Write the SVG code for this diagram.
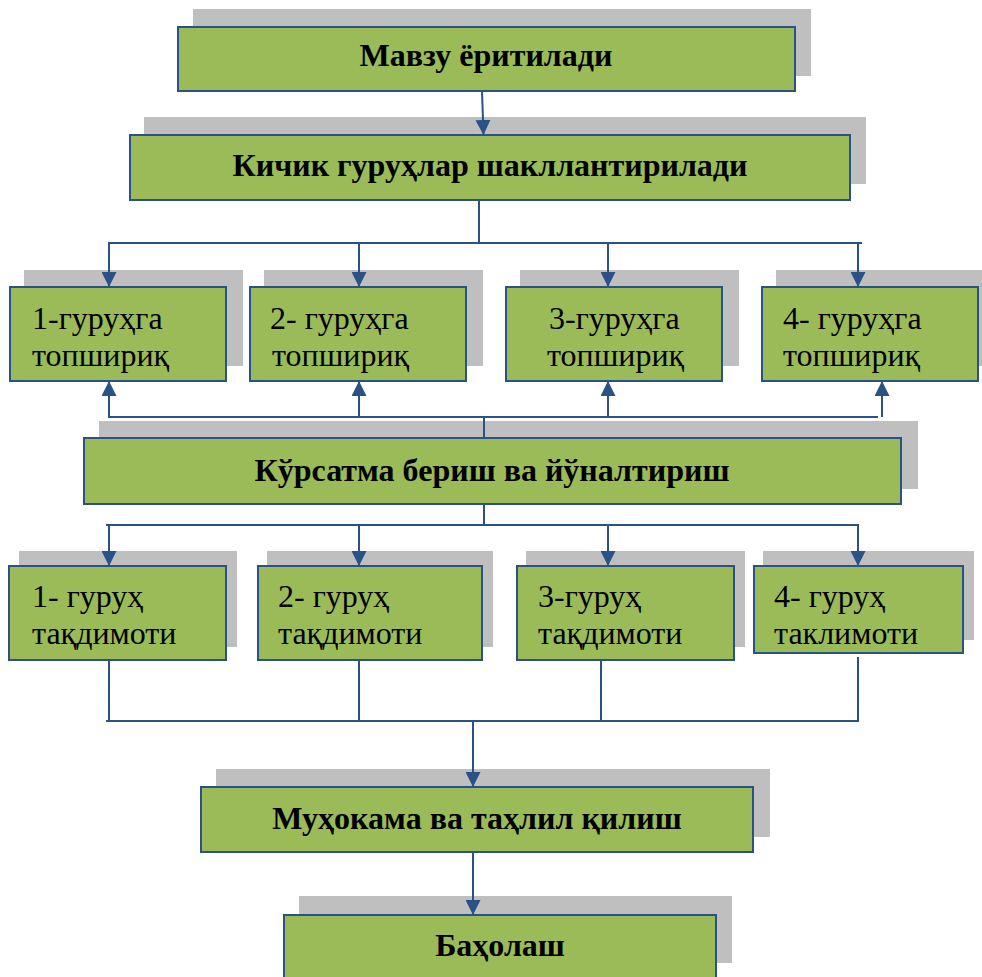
<svg xmlns="http://www.w3.org/2000/svg" width="982" height="977" viewBox="0 0 982 977">
<defs>
<style>
.sh{fill:#BFBFBF}
.bx{fill:#9BBB59;stroke:#2A5286;stroke-width:2}
.tb{font-family:"Liberation Serif","Times New Roman",serif;font-weight:bold;font-size:32px;fill:#000;text-anchor:middle}
.tr{font-family:"Liberation Serif","Times New Roman",serif;font-size:32px;fill:#000}
.cn{stroke:#2A5286;stroke-width:2;fill:none}
.ar{stroke:#2A5286;stroke-width:2;fill:none;marker-end:url(#ah)}
</style>
<marker id="ah" markerUnits="userSpaceOnUse" markerWidth="15" markerHeight="15" refX="15" refY="7.5" orient="auto">
<path d="M0,0 L15,7.5 L0,15 z" fill="#2A5286"/>
</marker>
</defs>
<rect width="982" height="977" fill="#fff"/>

<g id="n1">
<rect class="sh" x="193" y="9" width="618" height="67"/>
<rect class="bx" x="178" y="27" width="617" height="64"/>
<text class="tb" x="486" y="66">Мавзу ёритилади</text>
</g>
<g id="n2">
<rect class="sh" x="144" y="117" width="722" height="67"/>
<rect class="bx" x="130" y="135" width="720" height="65"/>
<text class="tb" x="490" y="176">Кичик гуруҳлар шакллантирилади</text>
</g>
<g id="t1">
<rect class="sh" x="24" y="270" width="219" height="96"/>
<rect class="bx" x="10" y="287" width="216" height="94"/>
<text class="tr" x="32" y="329">1-гуруҳга</text>
<text class="tr" x="32" y="366">топшириқ</text>
</g>
<g id="t2">
<rect class="sh" x="264" y="270" width="219" height="96"/>
<rect class="bx" x="250" y="287" width="216" height="94"/>
<text class="tr" x="270" y="329">2- гуруҳга</text>
<text class="tr" x="272" y="366">топшириқ</text>
</g>
<g id="t3">
<rect class="sh" x="520" y="270" width="219" height="96"/>
<rect class="bx" x="506" y="287" width="216" height="94"/>
<text class="tr" x="549" y="329">3-гуруҳга</text>
<text class="tr" x="547" y="366">топшириқ</text>
</g>
<g id="t4">
<rect class="sh" x="776" y="270" width="206" height="96"/>
<rect class="bx" x="762" y="287" width="216" height="94"/>
<text class="tr" x="783" y="329">4- гуруҳга</text>
<text class="tr" x="783" y="366">топшириқ</text>
</g>
<g id="n3">
<rect class="sh" x="99" y="421" width="819" height="68"/>
<rect class="bx" x="84" y="438" width="817" height="66"/>
<text class="tb" x="492" y="481">Кўрсатма бериш ва йўналтириш</text>
</g>
<g id="p1">
<rect class="sh" x="19" y="551" width="218" height="96"/>
<rect class="bx" x="9" y="566" width="217" height="94"/>
<text class="tr" x="32" y="607">1- гуруҳ</text>
<text class="tr" x="32" y="644">тақдимоти</text>
</g>
<g id="p2">
<rect class="sh" x="267" y="551" width="226" height="96"/>
<rect class="bx" x="258" y="566" width="224" height="94"/>
<text class="tr" x="278" y="607">2- гуруҳ</text>
<text class="tr" x="278" y="644">тақдимоти</text>
</g>
<g id="p3">
<rect class="sh" x="526" y="551" width="219" height="96"/>
<rect class="bx" x="517" y="566" width="217" height="94"/>
<text class="tr" x="538" y="607">3-гуруҳ</text>
<text class="tr" x="538" y="644">тақдимоти</text>
</g>
<g id="p4">
<rect class="sh" x="763" y="551" width="211" height="89"/>
<rect class="bx" x="754" y="566" width="209" height="87"/>
<text class="tr" x="774" y="607">4- гуруҳ</text>
<text class="tr" x="774" y="644">таклимоти</text>
</g>
<g id="n4">
<rect class="sh" x="216" y="769" width="554" height="68"/>
<rect class="bx" x="201" y="787" width="552" height="65"/>
<text class="tb" x="477" y="829">Муҳокама ва таҳлил қилиш</text>
</g>
<g id="n5">
<rect class="sh" x="299" y="896" width="433" height="67"/>
<rect class="bx" x="284" y="915" width="432" height="80"/>
<text class="tb" x="500" y="956">Баҳолаш</text>
</g>

<g id="connectors">
<line class="ar" x1="482" y1="91" x2="483.5" y2="135"/>
<polyline class="cn" points="479,200 479,243"/>
<line class="cn" x1="108" y1="243" x2="862" y2="243"/>
<line class="ar" x1="109" y1="243" x2="109" y2="287"/>
<line class="ar" x1="359" y1="243" x2="359" y2="287"/>
<line class="ar" x1="608" y1="243" x2="608" y2="287"/>
<line class="ar" x1="858" y1="243" x2="858" y2="287"/>

<line class="cn" x1="484" y1="438" x2="484" y2="417"/>
<line class="cn" x1="108" y1="417" x2="878" y2="417"/>
<line class="ar" x1="109" y1="417" x2="109" y2="381"/>
<line class="ar" x1="359" y1="417" x2="359" y2="381"/>
<line class="ar" x1="608" y1="417" x2="608" y2="381"/>
<line class="ar" x1="882" y1="417" x2="882" y2="381"/>

<line class="cn" x1="484" y1="504" x2="484" y2="525"/>
<line class="cn" x1="106" y1="525" x2="858" y2="525"/>
<line class="ar" x1="109" y1="525" x2="109" y2="566"/>
<line class="ar" x1="359" y1="525" x2="359" y2="566"/>
<line class="ar" x1="608" y1="525" x2="608" y2="566"/>
<line class="ar" x1="858" y1="524" x2="858" y2="566"/>

<line class="cn" x1="109" y1="660" x2="109" y2="721"/>
<line class="cn" x1="359" y1="660" x2="359" y2="721"/>
<line class="cn" x1="601" y1="660" x2="601" y2="721"/>
<line class="cn" x1="858" y1="657" x2="858" y2="721"/>
<line class="cn" x1="106" y1="721" x2="859" y2="721"/>
<line class="ar" x1="473" y1="721" x2="473" y2="787"/>
<line class="ar" x1="473" y1="852" x2="473" y2="915"/>
</g>
</svg>
